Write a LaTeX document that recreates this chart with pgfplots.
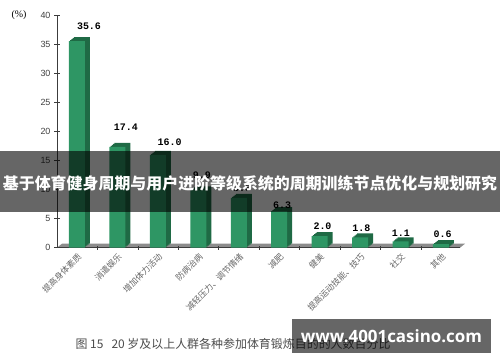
\documentclass[border=0pt]{standalone}
\usepackage{pgfplots}
\pgfplotsset{compat=1.18}
\usepackage{fontspec}
\setmainfont{Liberation Sans}
\newfontfamily\cjk{Noto Sans CJK SC}
\newfontfamily\monof{Liberation Mono}
\newfontfamily\seriff{Liberation Serif}
\newfontfamily\wmfont{Open Sans}
\definecolor{barfront}{HTML}{2E9664}
\definecolor{barside}{HTML}{1F6A45}
\definecolor{floorgray}{HTML}{8C8C8C}
\definecolor{axisgray}{HTML}{3C3C3C}
\pgfplotstableread{
x y
0 35.6
1 17.4
2 16.0
3 9.9
4 8.6
5 6.3
6 2.0
7 1.8
8 1.1
9 0.6
}\bardata
\begin{document}
\begin{tikzpicture}
\path[use as bounding box] (0,0) rectangle (500bp,362bp);
\fill[floorgray] (57bp,114.3bp) -- (460bp,114.3bp) -- (465bp,118.3bp) -- (62bp,118.3bp) -- cycle;
\begin{axis}[
  at={(57bp,114.3bp)}, anchor=south west,
  scale only axis, width=403bp, height=232bp,
  xmin=-0.494, xmax=9.47, ymin=0, ymax=40,
  clip=false,
  axis x line*=bottom, axis y line*=left,
  axis line style={axisgray, line width=1bp},
  xtick={0,...,9},
  xticklabels={提高身体素质,消遣娱乐,增加体力活动,防病治病,减轻压力、调节情绪,减肥,健美,提高运动技能、技巧,社交,其他},
  x tick label style={font=\cjk\fontsize{8.5}{9}\selectfont, text=black!60, rotate=45, anchor=north east, inner sep=1bp},
  ytick={0,5,...,40},
  y tick label style={font=\fontsize{9}{10}\selectfont, text=black!75},
  /pgf/number format/assume math mode=true,
  major tick length=6bp, tick align=center,
  major x tick style={draw=none},
  minor xtick={0.5,1.5,...,8.5},
  minor tick length=4bp,
  minor x tick style={axisgray},
  y tick style={axisgray, line width=0.8bp},
  bar3d/.style={ybar, bar width=16bp, bar shift=0pt, draw=none},
]
\addplot[bar3d, fill=barside, xshift=5bp, yshift=4bp] table {\bardata};
\addplot[bar3d, fill=barside, xshift=3.75bp, yshift=3bp] table {\bardata};
\addplot[bar3d, fill=barside, xshift=2.5bp, yshift=2bp] table {\bardata};
\addplot[bar3d, fill=barside, xshift=1.25bp, yshift=1bp] table {\bardata};
\addplot[bar3d, fill=barfront] table {\bardata};
\addplot[draw=none, nodes near coords, point meta=explicit symbolic,
  every node near coord/.style={anchor=center, font=\monof\bfseries\fontsize{10}{10}\selectfont, text=black}]
  table[meta=label] {
x y label
0.297 38.1 35.6
1.21 20.7 17.4
2.29 18.17 16.0
3.09 12.5 9.9
4.08 10.3 8.6
5.07 7.36 6.3
6.07 3.62 2.0
7.03 3.28 1.8
8.01 2.48 1.1
9.04 2.24 0.6
};
\end{axis}
\node[anchor=center, font=\seriff\fontsize{10}{10}\selectfont] at (19bp,347bp) {(\%)};
\node[anchor=west, font=\cjk\fontsize{12}{12}\selectfont, text=black!70] at (72bp,18bp) {图 15};
\node[anchor=west, font=\cjk\fontsize{12}{12}\selectfont, text=black!70] at (108bp,18bp) {20 岁及以上人群各种参加体育锻炼目的的人数百分比};
\fill[black, opacity=0.6] (0,150bp) rectangle (500bp,211bp);
\node[text=white, font=\cjk\bfseries\fontsize{16}{16}\selectfont] at (250bp,179bp) {基于体育健身周期与用户进阶等级系统的周期训练节点优化与规划研究};
\fill[black, opacity=0.6] (292bp,9bp) rectangle (491bp,43bp);
\node[text=white, font=\wmfont\bfseries\fontsize{17}{17}\selectfont] at (391.5bp,26bp) {www.4001casino.com};
\end{tikzpicture}
\end{document}
